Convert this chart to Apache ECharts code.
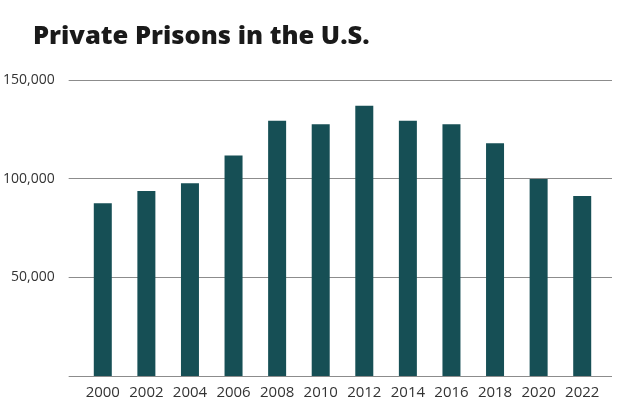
<!DOCTYPE html>
<html>
<head>
<meta charset="utf-8">
<script src="https://cdn.jsdelivr.net/npm/echarts@6/dist/echarts.min.js"></script>
<style>
html,body{margin:0;padding:0;background:#fff;}
#chart{width:624px;height:410px;}
</style>
</head>
<body>
<div id="chart"></div>
<script>
const years = ['2000','2002','2004','2006','2008','2010','2012','2014','2016','2018','2020','2022'];
const privatePrisoners = [87500, 93800, 97700, 111700, 129400, 127600, 137000, 129400, 127600, 118000, 99800, 91200];
const yTicks = [0, 50000, 100000, 150000];

const chart = echarts.init(document.getElementById('chart'), null, {renderer: 'canvas'});
const font = '"Open Sans", "Noto Sans", sans-serif';
chart.setOption({
  animation: false,
  backgroundColor: '#ffffff',
  title: {
    text: 'Private Prisons in the U.S.',
    left: 28, top: 19,
    textStyle: {fontFamily: font, fontWeight: 800, fontSize: 25.5, color: '#1a1a1a'}
  },
  grid: [
    {left: 67, right: 12, top: 80, bottom: 34},
    {left: 81, right: 20, top: 80, bottom: 34}
  ],
  xAxis: [
    {gridIndex: 0, type: 'value', show: false, min: 0, max: 1},
    {gridIndex: 1, type: 'category', data: years,
     axisLine: {show: false}, axisTick: {show: false},
     axisLabel: {interval: 0, fontFamily: font, fontSize: 15, color: '#333', margin: 9}}
  ],
  yAxis: [
    {gridIndex: 0, type: 'value', min: yTicks[0], max: yTicks[yTicks.length-1], interval: 50000,
     axisLine: {show: false}, axisTick: {show: false},
     splitLine: {show: true, lineStyle: {color: '#8c8c8c', width: 1.2}},
     axisLabel: {fontFamily: font, fontSize: 14, color: '#333', margin: 14,
       formatter: function(v){ return v === 0 ? '' : v.toLocaleString('en-US'); }}},
    {gridIndex: 1, type: 'value', min: 0, max: 150000, show: false}
  ],
  series: [{
    type: 'bar', xAxisIndex: 1, yAxisIndex: 1,
    data: privatePrisoners, barWidth: 18,
    itemStyle: {color: '#164f55'}
  }]
});
</script>
</body>
</html>
